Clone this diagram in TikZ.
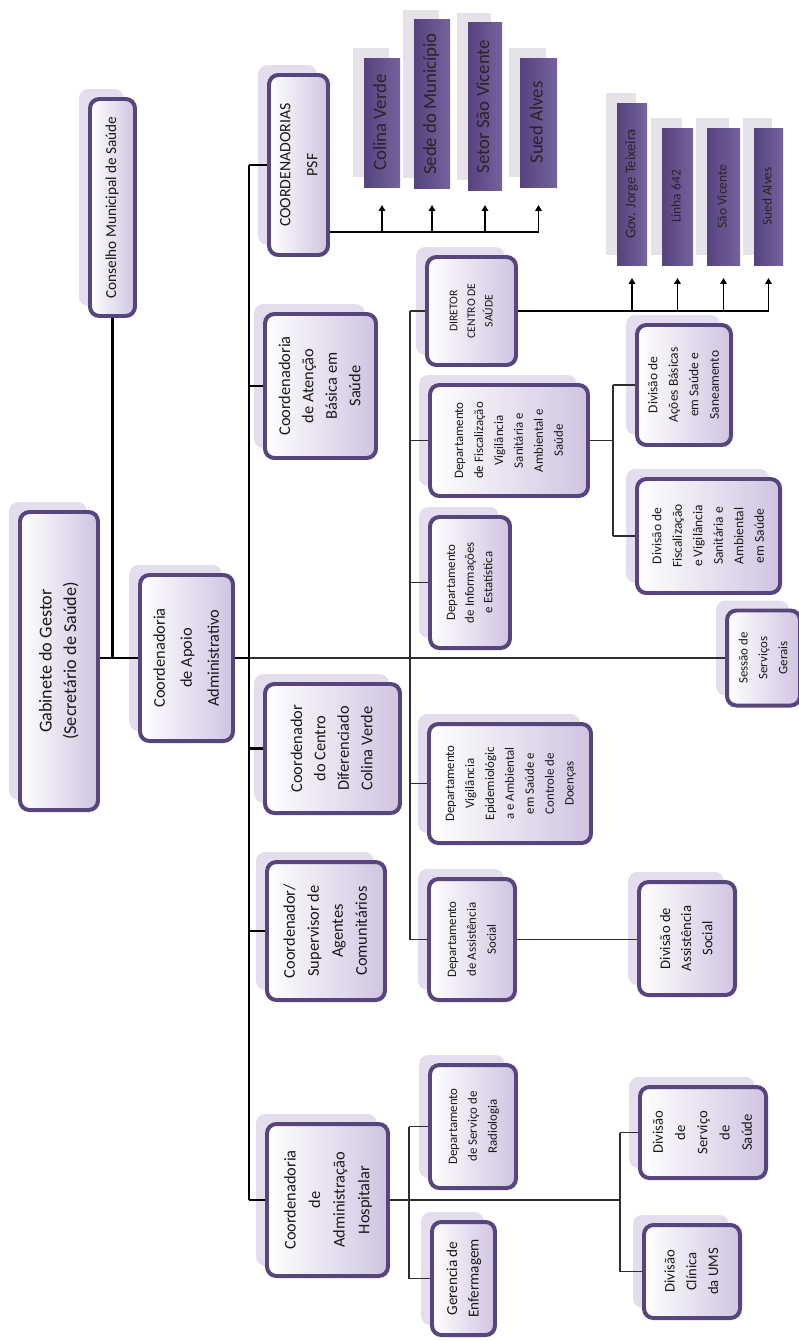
\documentclass[tikz,border=0pt]{standalone}
\usepackage{fontspec}
\setmainfont{Carlito}
\usepackage{graphicx}
\usetikzlibrary{shadows,arrows.meta}

\definecolor{unitframe}{HTML}{58457E}
\definecolor{unitlav}{HTML}{D0C4E1}
\definecolor{shadowlav}{HTML}{E4DDED}
\definecolor{darkA}{HTML}{56427C}
\definecolor{darkB}{HTML}{76629C}
\definecolor{shadowgray}{HTML}{E5E2EA}
\definecolor{linkgray}{HTML}{2E2E2E}

% label written upwards: font size, line skip, lines
\newcommand{\vlab}[3]{\rotatebox{90}{\fontsize{#1}{#2}\selectfont\begin{tabular}{@{}c@{}}#3\end{tabular}}}

\tikzset{
  office/.style={draw=unitframe, line width=3.4pt, rounded corners=8pt,
    left color=white, right color=unitlav, inner sep=0pt, text=black!90,
    drop shadow={shadow xshift=-3.3mm, shadow yshift=3mm, fill=shadowlav, opacity=1}},
  posto/.style={draw=none, left color=darkA, right color=darkB, inner sep=0pt, text=black!85,
    drop shadow={shadow xshift=-3.3mm, shadow yshift=3mm, fill=shadowgray, opacity=1}},
  mainline/.style={line width=2.3pt, black},
  subline/.style={line width=1pt, linkgray},
  feedline/.style={line width=1.2pt, black, -{Triangle[length=5pt,width=5.5pt]}}
}

\begin{document}
\begin{tikzpicture}[x=0.3mm, y=-0.3mm]
    \useasboundingbox (0,0) rectangle (798,1340);

    % Top of the chart
    \node[office, minimum width=13.5mm, minimum height=65.1mm] (cons) at (112.5,207.5) {\vlab{13}{15}{Conselho Municipal de Saúde}};
    \node[office, minimum width=23.4mm, minimum height=89.4mm] (gab) at (59,661) {\vlab{15.5}{21}{Gabinete do Gestor\\(Secretário de Saúde)}};
    \node[office, minimum width=27.9mm, minimum height=49.8mm] (apoio) at (186.5,658) {\vlab{14}{23}{Coordenadoria\\de Apoio\\Administrativo}};

    % Coordinations along the main trunk
    \node[office, minimum width=17.7mm, minimum height=54mm] (psf) at (298.5,165) {\vlab{13.5}{23}{COORDENADORIAS\\PSF}};
    \node[office, minimum width=33.3mm, minimum height=43.2mm] (aten) at (320.5,386) {\vlab{14}{20}{Coordenadoria\\de Atenção\\Básica em\\Saúde}};
    \node[office, minimum width=40.5mm, minimum height=38.7mm] (centro) at (332.5,748.5) {\vlab{14}{20}{Coordenador\\do Centro\\Diferenciado\\Colina Verde}};
    \node[office, minimum width=35.4mm, minimum height=41.4mm] (agentes) at (326,931) {\vlab{14}{20.5}{Coordenador/\\Supervisor de\\Agentes\\Comunitários}};
    \node[office, minimum width=36.3mm, minimum height=45.6mm] (hosp) at (327.5,1200) {\vlab{14}{21}{Coordenadoria\\de\\Administração\\Hospitalar}};

    % PSF units
    \node[posto, minimum width=10.8mm, minimum height=38.7mm] (colina) at (382,122.5) {\vlab{16}{18}{Colina Verde}};
    \node[posto, minimum width=10.8mm, minimum height=50.4mm] (sede) at (432,104) {\vlab{16}{18}{Sede do Município}};
    \node[posto, minimum width=10.2mm, minimum height=50.1mm] (setor) at (485,106.5) {\vlab{16}{18}{Setor São Vicente}};
    \node[posto, minimum width=11.1mm, minimum height=38.7mm] (suedA) at (538.5,122.5) {\vlab{16}{18}{Sued Alves}};

    % Departments
    \node[office, minimum width=26.7mm, minimum height=32.4mm] (dir) at (471.5,311) {\vlab{10}{15}{DIRETOR\\CENTRO DE\\SAÚDE}};
    \node[office, minimum width=47.4mm, minimum height=33.3mm] (fisc) at (509,440.5) {\vlab{11}{17}{Departamento\\de Fiscalização\\Vigilância\\Sanitária e\\Ambiental e\\Saúde}};
    \node[office, minimum width=24mm, minimum height=39.3mm] (info) at (470,582.5) {\vlab{11}{16}{Departamento\\de Informações\\e Estatística}};
    \node[office, minimum width=48.6mm, minimum height=35.7mm] (epid) at (510,783.5) {\vlab{11}{17}{Departamento\\Vigilância\\Epidemiológic\\a e Ambiental\\em Saúde e\\Controle de\\Doenças}};
    \node[office, minimum width=25.8mm, minimum height=36.3mm] (dass) at (472,939.5) {\vlab{11}{17}{Departamento\\de Assistência\\Social}};
    \node[office, minimum width=25.8mm, minimum height=36.9mm] (radio) at (473,1126.5) {\vlab{11}{17}{Departamento\\de Serviço de\\Radiologia}};
    \node[office, minimum width=18.9mm, minimum height=33.9mm] (enf) at (463.5,1278.5) {\vlab{13}{18.5}{Gerencia de\\Enfermagem}};

    % Health centre units
    \node[posto, minimum width=9mm, minimum height=48.6mm] (gov) at (632,184) {\vlab{12.5}{14}{Gov. Jorge Teixeira}};
    \node[posto, minimum width=9.3mm, minimum height=41.1mm] (linha) at (677.5,196.5) {\vlab{11.5}{13}{Linha 642}};
    \node[posto, minimum width=9.9mm, minimum height=41.1mm] (saovic) at (723.5,196.5) {\vlab{11.5}{13}{São Vicente}};
    \node[posto, minimum width=8.7mm, minimum height=41.1mm] (suedB) at (768.5,196.5) {\vlab{11.5}{13}{Sued Alves}};

    % Divisions
    \node[office, minimum width=28.2mm, minimum height=36mm] (acoes) at (684,385) {\vlab{11.5}{17.5}{Divisão de\\Ações Básicas\\em Saúde e\\Saneamento}};
    \node[office, minimum width=42.9mm, minimum height=34.2mm] (divf) at (708.5,536) {\vlab{11.5}{17.5}{Divisão de\\Fiscalização\\e Vigilância\\Sanitária e\\Ambiental\\em Saúde}};
    \node[office, minimum width=21.9mm, minimum height=28.5mm] (sessao) at (763.5,658) {\vlab{11}{17}{Sessão de\\Serviços\\Gerais}};
    \node[office, minimum width=28.8mm, minimum height=33.9mm] (divas) at (687,938.5) {\vlab{12.5}{18}{Divisão de\\Assistência\\Social}};
    \node[office, minimum width=37.8mm, minimum height=27.3mm] (dsau) at (703,1132.5) {\vlab{12.5}{19}{Divisão\\de\\Serviço\\de\\Saúde}};
    \node[office, minimum width=28.8mm, minimum height=27.9mm] (clin) at (692,1271.5) {\vlab{12.5}{18.5}{Divisão\\Clínica\\da UMS}};

    % Main trunk
    \coordinate (trunk) at (249,658);
    \draw[mainline] (cons.south) -- (cons.south |- apoio.west);
    \draw[mainline] (gab.east |- apoio.west) -- (apoio.west);
    \draw[mainline] (apoio.east) -- (trunk);
    \draw[mainline] (trunk |- psf.west) -- (trunk |- hosp.west);
    \foreach \n in {psf,aten,centro,agentes,hosp}
        \draw[mainline] (trunk |- \n.west) -- (\n.west);
    \draw[subline] (trunk) -- (sessao.west);

    % PSF feeds
    \coordinate (psfbus) at (psf.east |- 0,232);
    \draw[subline, line width=1.2pt, black] (psfbus) -- (psfbus -| suedA.south);
    \foreach \n in {colina,sede,setor,suedA}
        \draw[feedline] (psfbus -| \n.south) -- ++(0,-27);

    % Department trunk
    \coordinate (dtrunk) at (410,658);
    \draw[subline] (dtrunk |- dir.west) -- (dtrunk |- dass.west);
    \foreach \n in {dir,fisc,info,epid,dass}
        \draw[subline] (dtrunk |- \n.west) -- (\n.west);

    % Health centre feeds
    \draw[subline, line width=1.2pt, black] (dir.east) -- (dir.east -| suedB.south);
    \foreach \n in {gov,linha,saovic,suedB}
        \draw[feedline] (dir.east -| \n.south) -- ++(0,-33);

    % Divisions of fiscalization
    \draw[subline] (fisc.east) -- ++(23,0) coordinate (fbus);
    \draw[subline] (fbus |- acoes.west) -- (fbus |- divf.west);
    \foreach \n in {acoes,divf}
        \draw[subline] (fbus |- \n.west) -- (\n.west);

    % Social assistance
    \draw[subline] (dass.east) -- (dass.east -| divas.west);

    % Hospital branch
    \coordinate (hbus) at (620,1200);
    \coordinate (rbus) at (409,1200);
    \draw[subline] (hosp.east) -- (hbus);
    \draw[subline] (hbus |- dsau.west) -- (hbus |- clin.west);
    \foreach \n in {dsau,clin}
        \draw[subline] (hbus |- \n.west) -- (\n.west);
    \draw[subline] (rbus |- radio.west) -- (rbus |- enf.west);
    \foreach \n in {radio,enf}
        \draw[subline] (rbus |- \n.west) -- (\n.west);

\end{tikzpicture}
\end{document}
